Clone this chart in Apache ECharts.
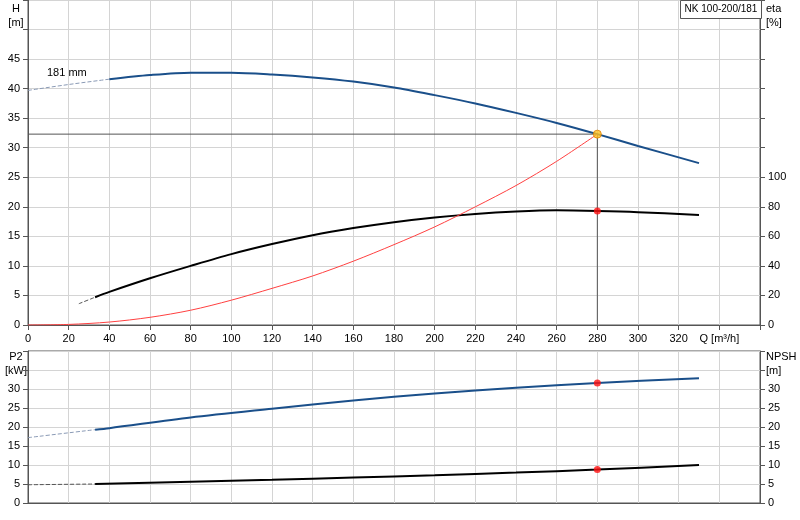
<!DOCTYPE html>
<html><head><meta charset="utf-8">
<script src="https://cdn.jsdelivr.net/npm/echarts@6/dist/echarts.min.js"></script>
<style>html,body{margin:0;padding:0;background:#fff}#c{width:800px;height:520px}</style>
</head><body><div id="c"></div>
<script>
const headDashed=[[0,39.7],[20,40.7],[40,41.6]];
const head=[[40,41.6],[60,42.3],[80,42.7],[100,42.7],[120,42.4],[140,41.9],[160,41.2],[180,40.2],[200,38.9],[220,37.5],[240,35.9],[260,34.2],[280,32.3],[300,30.3],[330,27.4]];
const etaDashed=[[25,14.4],[33,18.8]];
const eta=[[33,18.8],[40,22.4],[60,31.6],[80,40],[100,48],[120,54.8],[140,60.8],[160,65.6],[180,69.6],[200,72.8],[220,75.2],[240,76.8],[260,77.6],[280,77.2],[300,76.4],[330,74.4]];
const system=[[0,0],[20,0.1],[40,0.5],[60,1.3],[80,2.5],[100,4.2],[120,6.2],[140,8.3],[160,10.8],[180,13.6],[200,16.6],[220,20.0],[240,23.6],[260,27.7],[280,32.3]];
const dutyQ=280, dutyH=32.3, dutyEta=77.2;
const p2Dashed=[[0,17.2],[33,19.3]];
const p2=[[33,19.3],[40,19.7],[80,22.5],[120,24.8],[160,27.0],[200,28.8],[240,30.3],[280,31.6],[330,32.8]];
const npshDashed=[[0,4.8],[33,5.0]];
const npsh=[[33,5.0],[80,5.6],[120,6.1],[160,6.7],[200,7.3],[240,8.0],[280,8.8],[330,10.0]];
const dutyP2=31.6, dutyNpsh=8.8;
const title='NK 100-200/181';

const F='Liberation Sans';
const lab={color:'#000',fontFamily:F,fontSize:11};
const gl={lineStyle:{color:'#d4d4d4'}};
const al={lineStyle:{color:'#555'}};
function xa(i,labels){return {type:'value',gridIndex:i,min:0,max:360,interval:20,axisLine:al,axisTick:{show:labels,lineStyle:{color:'#555'}},
 splitLine:gl,axisLabel:labels?{...lab,formatter:v=>v==340?'Q [m³/h]':(v==360?'':v)}:{show:false}};}
function ya(i,pos,min,max,interval,fmt){return {type:'value',gridIndex:i,position:pos,min,max,interval,axisLine:{show:true,...al},
 axisTick:{show:true,lineStyle:{color:'#555'}},splitLine:pos=='left'?gl:{show:false},axisLabel:{...lab,formatter:fmt}};}
const blue='#1a4f8a';
function ln(d,xi,yi,color,w,dash){return {type:'line',data:d,xAxisIndex:xi,yAxisIndex:yi,showSymbol:false,smooth:0.3,
 lineStyle:{color,width:w,type:dash?'dashed':'solid'},z:3,silent:true};}
const chart=echarts.init(document.getElementById('c'));
chart.setOption({animation:false,
 grid:[{left:28,right:40,top:0,height:325,show:true,borderColor:'#555'},{left:28,right:40,top:351,height:152,show:true,borderColor:'#555'}],
 xAxis:[xa(0,true),xa(1,false)],
 yAxis:[ya(0,'left',0,55,5,v=>v>45?'':v),ya(0,'right',0,220,20,v=>v>100?'':v),
        ya(1,'left',0,40,5,v=>v>30?'':v),ya(1,'right',0,40,5,v=>v>30?'':v)],
 series:[
  ln(headDashed,0,0,'#8a9ab5',1,true),ln(head,0,0,blue,2),
  ln(etaDashed,0,1,'#555',1,true),ln(eta,0,1,'#000',2),
  ln(system,0,0,'#ff4040',1),
  {type:'line',xAxisIndex:0,yAxisIndex:0,data:[[0,dutyH],[dutyQ,dutyH],[dutyQ,0]],showSymbol:false,lineStyle:{color:'#555',width:1},z:2},
  {type:'scatter',xAxisIndex:0,yAxisIndex:0,data:[[dutyQ,dutyH]],symbolSize:8,itemStyle:{color:'#ffc020',borderColor:'#e08000'},z:5},
  {type:'scatter',xAxisIndex:0,yAxisIndex:1,data:[[dutyQ,dutyEta]],symbolSize:7,itemStyle:{color:'#ff1010'},z:5},
  ln(p2Dashed,1,2,'#8a9ab5',1,true),ln(p2,1,2,blue,2),
  ln(npshDashed,1,3,'#555',1,true),ln(npsh,1,3,'#000',2),
  {type:'scatter',xAxisIndex:1,yAxisIndex:2,data:[[dutyQ,dutyP2]],symbolSize:7,itemStyle:{color:'#ff1010'},z:5},
  {type:'scatter',xAxisIndex:1,yAxisIndex:3,data:[[dutyQ,dutyNpsh]],symbolSize:7,itemStyle:{color:'#ff1010'},z:5}
 ],
 graphic:[
  {type:'text',x:16,y:2,style:{text:'H\n[m]',fill:'#000',font:'11px '+F,lineHeight:14,align:'center'}},
  {type:'text',x:766,y:2,style:{text:'eta\n[%]',fill:'#000',font:'11px '+F,lineHeight:14}},
  {type:'text',x:16,y:350,style:{text:'P2\n[kW]',fill:'#000',font:'11px '+F,lineHeight:14,align:'center'}},
  {type:'text',x:766,y:350,style:{text:'NPSH\n[m]',fill:'#000',font:'11px '+F,lineHeight:14}},
  {type:'text',x:47,y:67,style:{text:'181 mm',fill:'#000',font:'11px '+F}},
  {type:'rect',shape:{x:680.5,y:0.5,width:81,height:18},style:{fill:'#fff',stroke:'#555'},z:9},
  {type:'text',x:721,y:4,style:{text:title,fill:'#000',font:'10px '+F,align:'center'},z:10}
 ]
});
</script></body></html>
